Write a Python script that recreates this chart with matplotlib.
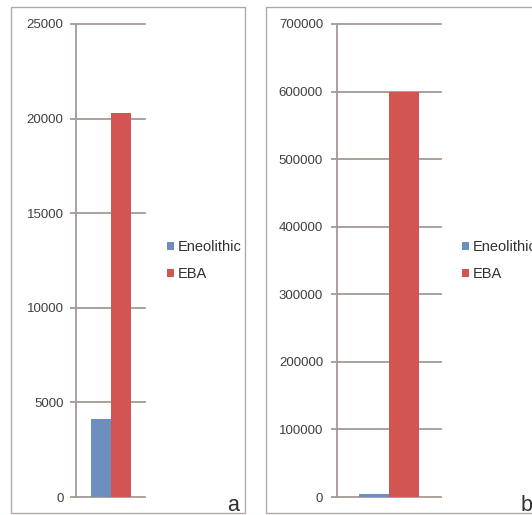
import matplotlib
matplotlib.use("Agg")
import matplotlib.pyplot as plt
from matplotlib.patches import Rectangle

plt.rcParams["font.family"] = ["Liberation Sans", "DejaVu Sans"]

series = ["Eneolithic", "EBA"]
values_a = [4100, 20300]
values_b = [4000, 600000]
ticks_a = [0, 5000, 10000, 15000, 20000, 25000]
ticks_b = [0, 100000, 200000, 300000, 400000, 500000, 600000, 700000]
colors = ["#6d8ebf", "#d25552"]
grid_col = "#a59a94"
frame_col = "#b3aaa5"

W, H = 532, 515
fig = plt.figure(figsize=(W / 100, H / 100), dpi=100)


def px_box(x0, y0, x1, y1):
    # pixel box (top-left origin) -> figure fraction [left, bottom, width, height]
    return [x0 / W, (H - y1) / H, (x1 - x0) / W, (y1 - y0) / H]


def panel(rect, vals, ticks, xpad, pad):
    ax = fig.add_axes(rect)
    for i, (name, v) in enumerate(zip(series, vals)):
        ax.bar(i - 0.5, v, width=1.0, color=colors[i], label=name, zorder=3)
    ax.set_xlim(-xpad, xpad)
    ax.set_ylim(ticks[0], ticks[-1])
    ax.set_yticks(ticks)
    ax.set_yticklabels([str(t) for t in ticks])
    ax.set_xticks([])
    ax.grid(axis="y", color=grid_col, lw=1.3, zorder=1)
    for gl in ax.get_ygridlines():
        gl.set_clip_on(False)
    for s in ("top", "right", "bottom"):
        ax.spines[s].set_visible(False)
    ax.spines["left"].set_color(grid_col)
    ax.spines["left"].set_linewidth(1.3)
    ax.tick_params(axis="y", length=4.5, width=1.3, color=grid_col,
                   labelsize=9.5, labelcolor="#404040", pad=pad)
    ax.patch.set_alpha(0)
    return ax


# panel frames
for x0, x1 in ((11, 245), (266, 545)):
    b = px_box(x0, 7, x1, 513)
    fig.patches.append(Rectangle((b[0], b[1]), b[2], b[3], transform=fig.transFigure,
                                 fill=False, edgecolor=frame_col, lw=1.0))

ax_a = panel(px_box(76, 24, 145, 497), values_a, ticks_a, 1.725, 4.5)
ax_b = panel(px_box(337, 24, 441, 497), values_b, ticks_b, 1.76, 5.5)

for ax, x in ((ax_a, 167), (ax_b, 462)):
    h, l = ax.get_legend_handles_labels()
    fig.legend(h, l, loc="center left", bbox_to_anchor=(x / W, (H - 260.5) / H),
               frameon=False, fontsize=10.5, handlelength=0.5, handleheight=0.5,
               handletextpad=0.25, borderpad=0, borderaxespad=0, labelspacing=0.9,
               labelcolor="#303030")

fig.text(227.5 / W, (H - 511) / H, "a", fontsize=15.5, va="baseline", color="#303030")
fig.text(521 / W, (H - 511) / H, "b", fontsize=15.5, va="baseline", color="#303030")

fig.savefig("out.png", dpi=100, facecolor="white")
